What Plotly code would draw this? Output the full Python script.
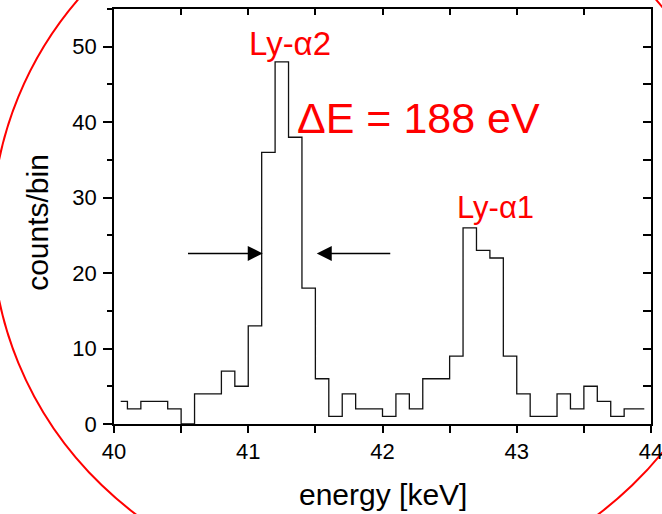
import plotly.graph_objects as go

# bin centres [keV]
energy = [40.05, 40.15, 40.25, 40.35, 40.45, 40.55, 40.65, 40.75, 40.85, 40.95,
          41.05, 41.15, 41.25, 41.35, 41.45, 41.55, 41.65, 41.75, 41.85, 41.95,
          42.05, 42.15, 42.25, 42.35, 42.45, 42.55, 42.65, 42.75, 42.85, 42.95,
          43.05, 43.15, 43.25, 43.35, 43.45, 43.55, 43.65, 43.75, 43.85, 43.95]
counts = [3, 2, 3, 3, 2, 0, 4, 4, 7, 5,
          13, 36, 48, 38, 18, 6, 1, 4, 2, 2,
          1, 4, 2, 6, 6, 9, 26, 23, 22, 9,
          4, 1, 1, 4, 2, 5, 3, 1, 2, 2]

x_ticks = [40, 41, 42, 43, 44]
y_ticks = [0, 10, 20, 30, 40, 50]

FONT = "Arial, Liberation Sans, sans-serif"
RED = "#ff0000"

fig = go.Figure()
fig.add_trace(go.Scatter(
    x=energy, y=counts, mode="lines", line=dict(color="#111111", width=1.3, shape="hvh"),
    showlegend=False, hoverinfo="skip"))
# helper trace so that the mirrored (top/right) axes are drawn
fig.add_trace(go.Scatter(x=[40], y=[0], mode="none", xaxis="x2", yaxis="y2",
                         showlegend=False, hoverinfo="skip"))

fig.update_layout(
    width=662, height=514,
    margin=dict(l=114, r=11, t=9, b=90, autoexpand=False),
    paper_bgcolor="white", plot_bgcolor="white",
    font=dict(family=FONT, color="black"),
    xaxis=dict(range=[40, 44], tickvals=x_ticks, ticktext=[str(v) for v in x_ticks],
               ticks="outside", ticklen=7, tickwidth=1.5, tickcolor="black",
               minor=dict(dtick=0.5, tick0=40, ticks="outside", ticklen=7, tickwidth=1.5, tickcolor="black"),
               showline=True, linecolor="black", linewidth=1.5, showgrid=False, zeroline=False,
               tickfont=dict(size=22, family=FONT), ticklabeloverflow="allow", automargin=False),
    yaxis=dict(range=[0, 55], tickvals=y_ticks, ticktext=[str(v) for v in y_ticks],
               ticks="outside", ticklen=9, tickwidth=1.5, tickcolor="black",
               minor=dict(dtick=5, tick0=0, ticks="outside", ticklen=5, tickwidth=1.5, tickcolor="black"),
               showline=True, linecolor="black", linewidth=1.5, showgrid=False, zeroline=False,
               tickfont=dict(size=22, family=FONT), ticklabelstandoff=2, automargin=False),
    xaxis2=dict(range=[40, 44], overlaying="x", side="top", dtick=0.5, tick0=40,
                ticks="inside", ticklen=6, tickwidth=1.5, tickcolor="black",
                showticklabels=False, showline=True, linecolor="black", linewidth=1.5,
                showgrid=False, zeroline=False, automargin=False),
    yaxis2=dict(range=[0, 55], overlaying="y", side="right", dtick=5, tick0=0,
                ticks="inside", ticklen=8, tickwidth=1.5, tickcolor="black",
                showticklabels=False, showline=True, linecolor="black", linewidth=1.5,
                showgrid=False, zeroline=False, automargin=False),
)

# big red ellipse in the background
fig.add_shape(type="circle", xref="paper", yref="paper",
              x0=-0.2272, x1=1.1695, y0=-0.4027, y1=1.3383,
              line=dict(color=RED, width=2), layer="below")

anns = [
    dict(text="Ly-α2", x=41.31, y=50.4, font=dict(size=33, color=RED, family=FONT)),
    dict(text="ΔE = 188 eV", x=42.27, y=40.6, font=dict(size=43, color=RED, family=FONT)),
    dict(text="Ly-α1", x=42.838, y=28.7, font=dict(size=31, color=RED, family=FONT)),
]
for a in anns:
    fig.add_annotation(xref="x", yref="y", showarrow=False, xanchor="center", yanchor="middle", **a)

# FWHM arrows
fig.add_annotation(xref="x", yref="y", axref="x", ayref="y", x=41.108, y=22.6, ax=40.54, ay=22.6,
                   text="", showarrow=True, arrowhead=2, arrowsize=2, arrowwidth=1.5, arrowcolor="black")
fig.add_annotation(xref="x", yref="y", axref="x", ayref="y", x=41.51, y=22.6, ax=42.069, ay=22.6,
                   text="", showarrow=True, arrowhead=2, arrowsize=2, arrowwidth=1.5, arrowcolor="black")

# axis titles
fig.add_annotation(xref="paper", yref="paper", x=0.5, y=-0.1688, text="energy [keV]",
                   showarrow=False, xanchor="center", yanchor="middle",
                   font=dict(size=30, family=FONT, color="black"))
fig.add_annotation(xref="paper", yref="paper", x=-0.1415, y=0.4847, text="counts/bin",
                   textangle=-90, showarrow=False, xanchor="center", yanchor="middle",
                   font=dict(size=30, family=FONT, color="black"))

fig.write_html("out.html")
